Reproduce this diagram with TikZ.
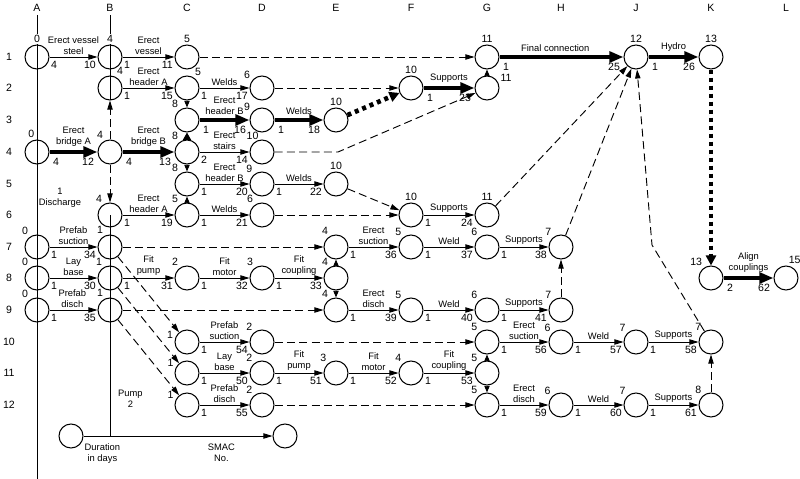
\documentclass[tikz,border=0pt]{standalone}
\usepackage{fontspec}
\setmainfont{Liberation Sans}
\usetikzlibrary{arrows.meta}

\begin{document}
\begin{tikzpicture}[x=0.03cm, y=-0.03cm,
    font=\fontsize{8}{9.5}\selectfont,
    ev/.style={circle, draw, line width=0.9pt, minimum size=0.72cm, inner sep=0pt},
    tm/.style={inner sep=1.3pt, font=\fontsize{9}{10}\selectfont},
    hline/.style={line width=0.8pt},
    act/.style={line width=0.8pt, -{Triangle[length=0.27cm,width=0.16cm]}},
    crit/.style={line width=4pt, -{Triangle[length=0.42cm,width=0.32cm]}},
    dum/.style={line width=0.8pt, dash pattern=on 0.24cm off 0.13cm, -{Triangle[length=0.27cm,width=0.16cm]}},
    link/.style={line width=0.8pt, -{Triangle[length=0.2cm,width=0.16cm]}},
    crlink/.style={line width=1pt, -{Triangle[length=0.22cm,width=0.24cm]}},
    crdum/.style={line width=0.14cm, dash pattern=on 0.12cm off 0.12cm, -{Triangle[length=0.3cm,width=0.3cm]}},
    lab/.style={midway, above, align=center, inner sep=1.5pt},
    dur/.style={pos=0, anchor=north west, inner sep=1pt, yshift=-2.5pt, font=\fontsize{9}{10}\selectfont},
    smac/.style={pos=1, anchor=north east, inner sep=1pt, yshift=-2.5pt, font=\fontsize{9}{10}\selectfont}]

    \useasboundingbox (0,0) rectangle (800,479);

    \foreach \c/\x in {A/37,B/110,C/187,D/262,E/336,F/411,G/487,H/561,J/636,K/711,L/786}
        \node[font=\fontsize{9}{10}\selectfont] (col\c) at (\x,8) {\c};
    \foreach \r/\y in {1/57,2/88,3/120,4/152,5/184,6/215,7/247,8/278,9/310,10/342,11/373,12/405}
        \node[font=\fontsize{9}{10}\selectfont] (row\r) at (9,\y) {\r};

    \coordinate (Atop) at (37,15);
    \coordinate (Abot) at (37,479);
    \coordinate (Btop) at (110,15);
    \coordinate (Bmid) at (110,100);
    \coordinate (Bsix) at (110,215);
    \coordinate (Bbot) at (110,436);
    \draw[hline] (Atop) -- (Abot);
    \draw[hline] (Btop) -- (Bmid);
    \draw[hline] (Bsix) -- (Bbot);

    \node[ev, label={[tm, fill=white]90:0}] (A1) at (37,57) {};
    \node[ev, label={[tm, fill=white]90:4}] (B1) at (110,57) {};
    \node[ev, label={[tm]90:5}] (C1) at (187,57) {};
    \node[ev, label={[tm]90:11}] (G1) at (487,57) {};
    \node[ev, label={[tm]90:12}] (J1) at (636,57) {};
    \node[ev, label={[tm]90:13}] (K1) at (711,57) {};

    \node[ev, label={[tm]65:4}] (B2) at (110,88) {};
    \node[ev, label={[tm]60:5}] (C2) at (187,88) {};
    \node[ev, label={[tm]145:6}] (D2) at (262,88) {};
    \node[ev, label={[tm]90:10}] (F2) at (411,88) {};
    \node[ev, label={[tm]20:11}] (G2) at (487,88) {};

    \node[ev, label={[tm]125:8}] (C3) at (187,120) {};
    \node[ev, label={[tm]145:9}] (D3) at (262,120) {};
    \node[ev, label={[tm]90:10}] (E3) at (336,120) {};

    \node[ev, label={[tm, fill=white]95:0}] (A4) at (37,152) {};
    \node[ev, label={[tm]115:4}] (B4) at (110,152) {};
    \node[ev, label={[tm]125:8}] (C4) at (187,152) {};
    \node[ev, label={[tm, label distance=-1.5pt]100:10}] (D4) at (262,152) {};

    \node[ev, label={[tm]125:8}] (C5) at (187,184) {};
    \node[ev, label={[tm]130:9}] (D5) at (262,184) {};
    \node[ev, label={[tm]90:10}] (E5) at (336,184) {};

    \node[ev, label={[tm]120:4}] (B6) at (110,215) {};
    \node[ev, label={[tm]125:5}] (C6) at (187,215) {};
    \node[ev, label={[tm]125:6}] (D6) at (262,215) {};
    \node[ev, label={[tm]90:10}] (F6) at (411,215) {};
    \node[ev, label={[tm]90:11}] (G6) at (487,215) {};

    \node[ev, label={[tm]125:0}] (A7) at (37,247) {};
    \node[ev, label={[tm]115:1}] (B7) at (110,247) {};
    \node[ev, label={[tm]120:4}] (E7) at (336,247) {};
    \node[ev, label={[tm]130:5}] (F7) at (411,247) {};
    \node[ev, label={[tm]130:6}] (G7) at (487,247) {};
    \node[ev, label={[tm]130:7}] (H7) at (561,247) {};

    \node[ev, label={[tm]125:0}] (A8) at (37,278) {};
    \node[ev, label={[tm]120:1}] (B8) at (110,278) {};
    \node[ev, label={[tm]125:2}] (C8) at (187,278) {};
    \node[ev, label={[tm]125:3}] (D8) at (262,278) {};
    \node[ev, label={[tm]120:4}] (E8) at (336,278) {};
    \node[ev, label={[tm]125:13}] (K8) at (711,278) {};
    \node[ev, label={[tm]85:15}] (L8) at (786,278) {};

    \node[ev, label={[tm]125:0}] (A9) at (37,310) {};
    \node[ev, label={[tm]115:1}] (B9) at (110,310) {};
    \node[ev, label={[tm]120:4}] (E9) at (336,310) {};
    \node[ev, label={[tm]130:5}] (F9) at (411,310) {};
    \node[ev, label={[tm]130:6}] (G9) at (487,310) {};
    \node[ev, label={[tm]130:7}] (H9) at (561,310) {};

    \node[ev, label={[tm]170:1}] (C10) at (187,342) {};
    \node[ev, label={[tm]130:2}] (D10) at (262,342) {};
    \node[ev, label={[tm]130:5}] (G10) at (487,342) {};
    \node[ev, label={[tm]135:6}] (H10) at (561,342) {};
    \node[ev, label={[tm]135:7}] (J10) at (636,342) {};
    \node[ev, label={[tm]130:7}] (K10) at (711,342) {};

    \node[ev, label={[tm]160:1}] (C11) at (187,373) {};
    \node[ev, label={[tm]130:2}] (D11) at (262,373) {};
    \node[ev, label={[tm]130:3}] (E11) at (336,373) {};
    \node[ev, label={[tm]130:4}] (F11) at (411,373) {};
    \node[ev, label={[tm]130:5}] (G11) at (487,373) {};

    \node[ev, label={[tm]160:1}] (C12) at (187,405) {};
    \node[ev, label={[tm]130:2}] (D12) at (262,405) {};
    \node[ev, label={[tm]130:5}] (G12) at (487,405) {};
    \node[ev, label={[tm]135:6}] (H12) at (561,405) {};
    \node[ev, label={[tm]135:7}] (J12) at (636,405) {};
    \node[ev, label={[tm]130:8}] (K12) at (711,405) {};

    \node[ev] (legS) at (71,436) {};
    \node[ev] (legE) at (285,436) {};

    \node[align=center] (dis) at (60,198) {1\\Discharge};
    \node[align=center, anchor=west] (pump) at (114,399) {Pump\\2};

    \coordinate (e4) at (338,152);
    \coordinate (k5) at (652,245);

    \draw[act] (A1) -- node[lab] {Erect vessel\\steel} node[dur] {4} node[smac] {10} (B1);
    \draw[act] (B1) -- node[lab] {Erect\\vessel} node[dur] {1} node[smac] {11} (C1);
    \draw[dum] (C1) -- (G1);
    \draw[crit] (G1) -- node[lab, pos=0.45, yshift=1pt] {Final connection} node[dur] {1} node[smac] {25} (J1);
    \draw[crit] (J1) -- node[lab, yshift=1pt] {Hydro} node[dur] {1} node[smac] {26} (K1);
    \draw[crdum] (K1) -- (K8);

    \draw[act] (B2) -- node[lab] {Erect\\header A} node[dur] {1} node[smac] {15} (C2);
    \draw[act] (C2) -- node[lab] {Welds} node[dur] {1} node[smac] {17} (D2);
    \draw[dum] (D2) -- (F2);
    \draw[crit] (F2) -- node[lab, yshift=1pt] {Supports} node[dur] {1} node[smac] {23} (G2);
    \draw[link] (G2) -- (G1);
    \draw[link] (C2) -- (C3);

    \draw[crit] (C3) -- node[lab, yshift=1pt] {Erect\\header B} node[dur] {1} node[smac] {16} (D3);
    \draw[crit] (D3) -- node[lab, yshift=1pt] {Welds} node[dur] {1} node[smac] {18} (E3);
    \draw[crdum] (E3) -- (F2);

    \draw[crit] (A4) -- node[lab, yshift=1pt] {Erect\\bridge A} node[dur] {4} node[smac] {12} (B4);
    \draw[crit] (B4) -- node[lab, yshift=1pt] {Erect\\bridge B} node[dur] {4} node[smac] {13} (C4);
    \draw[act] (C4) -- node[lab] {Erect\\stairs} node[dur] {2} node[smac] {14} (D4);
    \draw[dum] (D4) -- (e4) -- (G2);
    \draw[dum] (B4) -- (B2);
    \draw[dum] (B4) -- (B6);
    \draw[crlink] (C4) -- (C3);
    \draw[link] (C4) -- (C5);

    \draw[act] (C5) -- node[lab] {Erect\\header B} node[dur] {1} node[smac] {20} (D5);
    \draw[act] (D5) -- node[lab] {Welds} node[dur] {1} node[smac] {22} (E5);
    \draw[dum] (E5) -- (F6);
    \draw[link] (C6) -- (C5);

    \draw[act] (B6) -- node[lab] {Erect\\header A} node[dur] {1} node[smac] {19} (C6);
    \draw[act] (C6) -- node[lab] {Welds} node[dur] {1} node[smac] {21} (D6);
    \draw[dum] (D6) -- (F6);
    \draw[act] (F6) -- node[lab] {Supports} node[dur] {1} node[smac] {24} (G6);
    \draw[dum] (G6) -- (J1);

    \draw[act] (A7) -- node[lab] {Prefab\\suction} node[dur] {1} node[smac] {34} (B7);
    \draw[dum] (B7) -- (E7);
    \draw[act] (E7) -- node[lab] {Erect\\suction} node[dur] {1} node[smac] {36} (F7);
    \draw[act] (F7) -- node[lab] {Weld} node[dur] {1} node[smac] {37} (G7);
    \draw[act] (G7) -- node[lab] {Supports} node[dur] {1} node[smac] {38} (H7);
    \draw[dum] (H7) -- (J1);
    \draw[dum] (B7) -- (C10);

    \draw[act] (A8) -- node[lab] {Lay\\base} node[dur] {1} node[smac] {30} (B8);
    \draw[act] (B8) -- node[lab] {Fit\\pump} node[dur] {1} node[smac] {31} (C8);
    \draw[act] (C8) -- node[lab] {Fit\\motor} node[dur] {1} node[smac] {32} (D8);
    \draw[act] (D8) -- node[lab] {Fit\\coupling} node[dur] {1} node[smac] {33} (E8);
    \draw[link] (E8) -- (E7);
    \draw[link] (E8) -- (E9);
    \draw[dum] (B8) -- (C11);
    \draw[crit] (K8) -- node[lab, yshift=1pt] {Align\\couplings} node[dur] {2} node[smac] {62} (L8);

    \draw[act] (A9) -- node[lab, xshift=-1pt] {Prefab\\disch} node[dur] {1} node[smac] {35} (B9);
    \draw[dum] (B9) -- (E9);
    \draw[act] (E9) -- node[lab] {Erect\\disch} node[dur] {1} node[smac] {39} (F9);
    \draw[act] (F9) -- node[lab] {Weld} node[dur] {1} node[smac] {40} (G9);
    \draw[act] (G9) -- node[lab] {Supports} node[dur] {1} node[smac] {41} (H9);
    \draw[dum] (H9) -- (H7);
    \draw[dum] (B9) -- (C12);

    \draw[act] (C10) -- node[lab] {Prefab\\suction} node[dur] {1} node[smac] {54} (D10);
    \draw[dum] (D10) -- (G10);
    \draw[act] (G10) -- node[lab] {Erect\\suction} node[dur] {1} node[smac] {56} (H10);
    \draw[act] (H10) -- node[lab] {Weld} node[dur] {1} node[smac] {57} (J10);
    \draw[act] (J10) -- node[lab] {Supports} node[dur] {1} node[smac] {58} (K10);
    \draw[dum] (K10) -- (k5) -- (J1);

    \draw[act] (C11) -- node[lab] {Lay\\base} node[dur] {1} node[smac] {50} (D11);
    \draw[act] (D11) -- node[lab] {Fit\\pump} node[dur] {1} node[smac] {51} (E11);
    \draw[act] (E11) -- node[lab] {Fit\\motor} node[dur] {1} node[smac] {52} (F11);
    \draw[act] (F11) -- node[lab] {Fit\\coupling} node[dur] {1} node[smac] {53} (G11);
    \draw[link] (G11) -- (G10);
    \draw[link] (G11) -- (G12);

    \draw[act] (C12) -- node[lab] {Prefab\\disch} node[dur] {1} node[smac] {55} (D12);
    \draw[dum] (D12) -- (G12);
    \draw[act] (G12) -- node[lab] {Erect\\disch} node[dur] {1} node[smac] {59} (H12);
    \draw[act] (H12) -- node[lab] {Weld} node[dur] {1} node[smac] {60} (J12);
    \draw[act] (J12) -- node[lab] {Supports} node[dur] {1} node[smac] {61} (K12);
    \draw[dum] (K12) -- (K10);

    \draw[act] (legS) -- node[pos=0.1, below, align=center, yshift=-3pt] {Duration\\in days}
        node[pos=0.73, below, align=center, yshift=-3pt] {SMAC\\No.} (legE);
\end{tikzpicture}
\end{document}
